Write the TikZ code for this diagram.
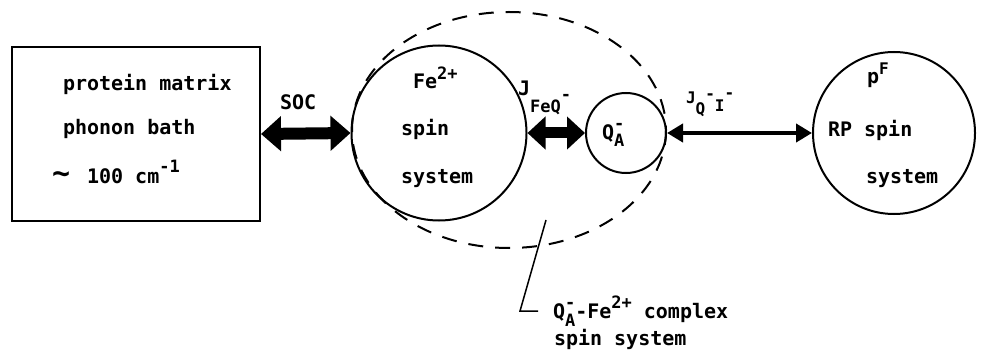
\documentclass[tikz,border=0pt]{standalone}
\usepackage{fontspec}
\setmainfont{DejaVu Sans Mono}
\usetikzlibrary{arrows.meta}
\newcommand\supsz[1]{{\fontsize{17}{17}\selectfont #1}}
\begin{document}
\begin{tikzpicture}[x=1pt,y=-1pt,line width=2pt,
  txt/.style={anchor=base west,inner sep=0pt,font=\fontsize{20}{24}\selectfont\bfseries},
  sys/.style={draw,circle,inner sep=0pt},
  bigarrow/.style={line width=12pt,{Triangle[width=34pt,length=20pt]}-{Triangle[width=34pt,length=20pt]}},
  midarrow/.style={line width=11pt,{Triangle[width=32pt,length=18pt]}-{Triangle[width=32pt,length=18pt]}},
  thinarrow/.style={line width=4pt,{Triangle[width=18pt,length=16pt]}-{Triangle[width=18pt,length=16pt]}},
  complexline/.style={dash pattern=on 15pt off 12pt,line width=2pt},
  leader/.style={line width=1.5pt}]
\useasboundingbox (0,0) rectangle (987,358);
% nodes
\node[draw,minimum width=248pt,minimum height=174pt,inner sep=0pt,anchor=north west] (box) at (11,46) {};
\node[sys,minimum size=175pt] (fe) at (439,133) {};
\node[sys,minimum size=80pt] (qa) at (626,133) {};
\node[sys,minimum size=162pt] (rp) at (894,133) {};
% dashed complex outline
\draw[complexline] (509,130) ellipse [x radius=157,y radius=118];
% connectors
\draw[bigarrow] (box.east) -- (fe.west);
\draw[midarrow] (fe.east) -- (qa.west);
\draw[thinarrow] (qa.east) -- (rp.west);
% leader
\coordinate (l1) at (546,220);
\coordinate (l2) at (520,311);
\coordinate (l3) at (538,311);
\draw[leader] (l1) -- (l2) -- (l3);
% texts
\node[txt] (t1) at (62,91) {protein matrix};
\node[txt] (t2) at (62,135) {phonon bath};
\node[txt] (t3) at (51,183) {{\fontsize{30}{30}\selectfont\textasciitilde}\hspace{17pt}100 cm\raisebox{10pt}{\supsz{-1}}};
\node[txt] (soc) at (279,110) {SOC};
\node[txt] (fe1) at (412,89) {Fe\raisebox{9pt}{\supsz{2+}}};
\node[txt] (fe2) at (400,136) {spin};
\node[txt] (fe3) at (400,183) {system};
\node[txt] (jfq) at (517,96) {J\raisebox{-17pt}{\fontsize{17}{17}\selectfont FeQ\raisebox{12pt}{-}}};
\node[txt] (qa1) at (601,140) {Q\rlap{\raisebox{10pt}{\supsz{-}}}\raisebox{-7pt}{\supsz{A}}};
\node[txt] (jqi) at (685,104) {{\fontsize{16}{16}\selectfont J\raisebox{-11pt}{Q}\raisebox{4pt}{-}\raisebox{-8pt}{I}\raisebox{5pt}{-}}};
\node[txt] (rp1) at (866,84) {p\raisebox{9pt}{\fontsize{16}{16}\selectfont F}};
\node[txt] (rp2) at (827,137) {RP spin};
\node[txt] (rp3) at (865,183) {system};
\node[txt] (c1) at (552,318) {Q\rlap{\raisebox{10pt}{\supsz{-}}}\raisebox{-8pt}{\supsz{A}}-Fe\raisebox{10pt}{\supsz{2+}} complex};
\node[txt] (c2) at (553,345) {spin system};
\end{tikzpicture}
\end{document}
